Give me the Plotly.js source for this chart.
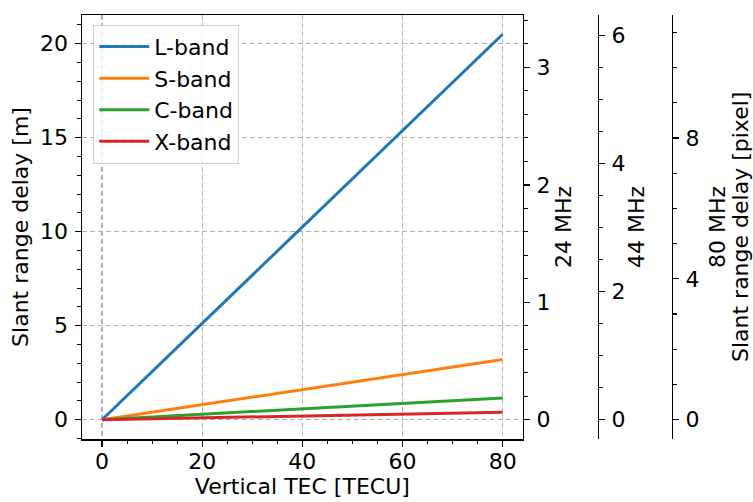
<!DOCTYPE html>
<html><head><meta charset="utf-8">
<script src="https://cdn.plot.ly/plotly-3.0.1.min.js"></script>
<style>html,body{margin:0;padding:0;background:#fff}#chart{width:753px;height:502px}</style>
</head><body><div id="chart"></div><script>
// Data
const tec = [0, 20, 40, 60, 80];
const lBand = [0, 5.12, 10.25, 15.37, 20.5];
const sBand = [0, 0.80, 1.60, 2.40, 3.20];
const cBand = [0, 0.29, 0.58, 0.87, 1.16];
const xBand = [0, 0.10, 0.20, 0.30, 0.40];
const bandNames = ["L-band", "S-band", "C-band", "X-band"];
const bandColors = ["#1f77b4", "#ff7f0e", "#2ca02c", "#d62728"];
// secondary axes: sampling frequencies (MHz) and their tick steps
const samplingMHz = [24, 44, 80];
const majorStep = [1, 2, 4];
const minorStep = [0.2, 0.5, 1];

const yRange = [-1.025, 21.525];
const xRange = [-4, 84];
const C = 299792458;
const pixelSpacing = samplingMHz.map(f => C / (2 * f * 1e6));

const FONT = {family: "DejaVu Sans", size: 22, color: "#000"};
const series = [lBand, sBand, cBand, xBand];
const traces = series.map((v, i) => ({
  x: tec, y: v, type: "scatter", mode: "lines", name: bandNames[i],
  line: {color: bandColors[i], width: 3}, xaxis: "x", yaxis: "y"
}));

const gridCol = "#b0b0b0";
const axBase = {
  showline: true, linecolor: "#000", linewidth: 1.5, ticks: "outside",
  ticklen: 6, tickwidth: 1.3, tickcolor: "#000", zeroline: false,
  tickfont: FONT, title: {font: FONT}
};
const domainX = [0, 0.6667];
const layout = {
  width: 753, height: 502, margin: {l: 82, r: 10, t: 15, b: 63},
  paper_bgcolor: "#fff", plot_bgcolor: "#fff", font: FONT,
  showlegend: true,
  legend: {x: 0.017, y: 0.977, xanchor: "left", yanchor: "top",
    bgcolor: "rgba(255,255,255,0.8)", bordercolor: "#d0d0d0", borderwidth: 1,
    font: FONT, itemwidth: 50},
  xaxis: Object.assign({}, axBase, {
    domain: domainX, range: xRange, dtick: 20, tick0: 0, mirror: true,
    showgrid: true, gridcolor: gridCol, gridwidth: 1.2, griddash: "5px,3px",
    minor: {ticks: "outside", ticklen: 3.5, dtick: 5, tickcolor: "#000", tickwidth: 1.1, showgrid: false},
    title: {text: "Vertical TEC [TECU]", font: FONT, standoff: 4},
    ticklabelstandoff: -4
  }),
  yaxis: Object.assign({}, axBase, {
    range: yRange, dtick: 5, tick0: 0, anchor: "x",
    showgrid: true, gridcolor: gridCol, gridwidth: 1.2, griddash: "5px,3px",
    minor: {ticks: "outside", ticklen: 3.5, dtick: 1, tickcolor: "#000", tickwidth: 1.1, showgrid: false},
    title: {text: "Slant range delay [m]", font: FONT},
    ticklabelstandoff: 2
  }),
  annotations: [{
    text: "Slant range delay [pixel]", xref: "paper", yref: "paper",
    x: 0.9955, y: 0.5, xanchor: "center", yanchor: "middle",
    textangle: -90, showarrow: false, font: FONT
  }]
};
const positions = [null, 0.780, 0.892];
const standoffs = [4, 4, 11];
samplingMHz.forEach((f, i) => {
  const key = "yaxis" + (i + 2);
  const ax = Object.assign({}, axBase, {
    overlaying: "y", side: "right",
    range: [yRange[0] / pixelSpacing[i], yRange[1] / pixelSpacing[i]],
    dtick: majorStep[i], tick0: 0, showgrid: false,
    minor: {ticks: "outside", ticklen: 3.5, dtick: minorStep[i], tickcolor: "#000", tickwidth: 1.1, showgrid: false},
    title: {text: f + " MHz", font: FONT, standoff: standoffs[i]},
    ticklabelstandoff: 2
  });
  if (positions[i] === null) { ax.anchor = "x"; }
  else { ax.anchor = "free"; ax.position = positions[i]; }
  layout[key] = ax;
  // hidden helper trace so each axis is registered
  traces.push({x: [null], y: [null], type: "scatter", mode: "lines", showlegend: false,
    hoverinfo: "skip", xaxis: "x", yaxis: "y" + (i + 2)});
});

Plotly.newPlot("chart", traces, layout, {displayModeBar: false, staticPlot: true});
</script></body></html>
